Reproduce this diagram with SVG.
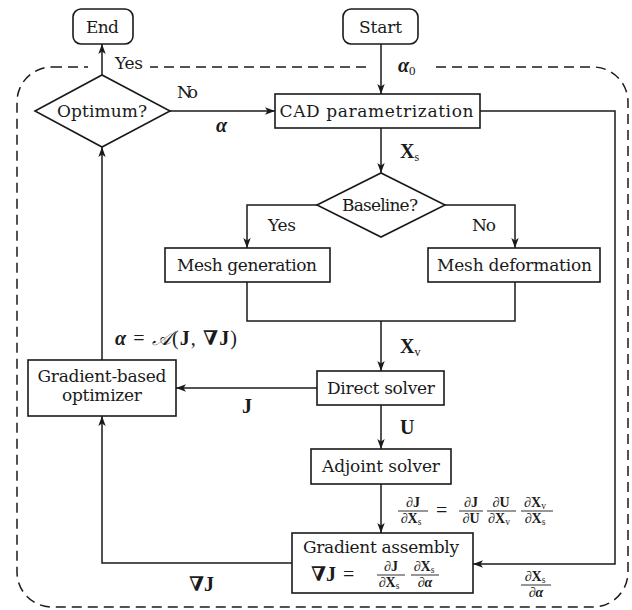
<svg xmlns="http://www.w3.org/2000/svg" width="632" height="610" viewBox="0 0 632 610">
<defs>
<style>
.box{fill:#fff;stroke:#1a1a1a;stroke-width:1.6}
.ln{fill:none;stroke:#1a1a1a;stroke-width:1.5}
.t{font-family:"DejaVu Serif","Liberation Serif",serif;font-size:17px;fill:#1a1a1a}
.m{font-family:"Liberation Serif","DejaVu Serif",serif;font-size:20px;fill:#1a1a1a}
.c{text-anchor:middle}
.b{font-weight:bold}
.bi{font-weight:bold;font-style:italic}
.f{font-family:"Liberation Serif","DejaVu Serif",serif;font-size:14px;fill:#1a1a1a;text-anchor:middle}
.fl{stroke:#1a1a1a;stroke-width:0.9}
.dash{fill:none;stroke:#1a1a1a;stroke-width:1.5;stroke-dasharray:10 6}
</style>
<marker id="ah" viewBox="0 0 10 8" refX="10" refY="4" markerWidth="10" markerHeight="8" markerUnits="userSpaceOnUse" orient="auto">
<path d="M0,0.3 L10,4 L0,7.7 L2.5,4 Z" fill="#1a1a1a"/>
</marker>
</defs>
<rect width="632" height="610" fill="#fff"/>

<g id="boundary">
<rect class="dash" x="17" y="67" width="611" height="540" rx="35" ry="35"/>
<rect x="88" y="60" width="62" height="14" fill="#fff"/>
<rect x="371" y="60" width="62" height="14" fill="#fff"/>
</g>

<g id="connectors">
<path class="ln" d="M102,75 V44" marker-end="url(#ah)"/>
<path class="ln" d="M381,44 V94" marker-end="url(#ah)"/>
<path class="ln" d="M170,111 H275" marker-end="url(#ah)"/>
<path class="ln" d="M381,128 V173" marker-end="url(#ah)"/>
<path class="ln" d="M317,205 H247 V248" marker-end="url(#ah)"/>
<path class="ln" d="M445,205 H515 V248" marker-end="url(#ah)"/>
<path class="ln" d="M247,282 V321 H515 V282"/>
<path class="ln" d="M381,321 V371" marker-end="url(#ah)"/>
<path class="ln" d="M317,388 H176" marker-end="url(#ah)"/>
<path class="ln" d="M381,405 V449" marker-end="url(#ah)"/>
<path class="ln" d="M381,484 V533" marker-end="url(#ah)"/>
<path class="ln" d="M480,111 H615 V564 H473" marker-end="url(#ah)"/>
<path class="ln" d="M292,563 H102 V416" marker-end="url(#ah)"/>
<path class="ln" d="M102,360 V147" marker-end="url(#ah)"/>
</g>

<g id="end">
<rect class="box" x="73" y="9" width="60" height="35" rx="8"/>
<text class="t c" x="102.5" y="33" textLength="33">End</text>
</g>
<g id="start">
<rect class="box" x="343" y="9" width="75" height="35" rx="8"/>
<text class="t c" x="380.5" y="33" textLength="43">Start</text>
</g>
<g id="optimum">
<polygon class="box" points="35,111 102,75 170,111 102,147"/>
<text class="t c" x="102" y="117" textLength="90">Optimum?</text>
</g>
<g id="cad">
<rect class="box" x="275" y="94" width="205" height="34"/>
<text class="t c" x="376.5" y="117" textLength="194">CAD parametrization</text>
</g>
<g id="baseline">
<polygon class="box" points="317,205 381,173 445,205 381,237"/>
<text class="t c" x="380" y="211" textLength="76">Baseline?</text>
</g>
<g id="meshgen">
<rect class="box" x="165" y="248" width="165" height="34"/>
<text class="t c" x="247" y="271" textLength="140">Mesh generation</text>
</g>
<g id="meshdef">
<rect class="box" x="428" y="248" width="172" height="34"/>
<text class="t c" x="514.5" y="271" textLength="155">Mesh deformation</text>
</g>
<g id="direct">
<rect class="box" x="317" y="371" width="127" height="34"/>
<text class="t c" x="381" y="394" textLength="108">Direct solver</text>
</g>
<g id="adjoint">
<rect class="box" x="311" y="449" width="140" height="35"/>
<text class="t c" x="381" y="472" textLength="118">Adjoint solver</text>
</g>
<g id="optimizer">
<rect class="box" x="28" y="360" width="148" height="56"/>
<text class="t c" x="102" y="382" textLength="129">Gradient-based</text>
<text class="t c" x="102" y="401" textLength="80">optimizer</text>
</g>
<g id="gradasm">
<rect class="box" x="292" y="533" width="181" height="60"/>
<text class="t c" x="381" y="553" textLength="156">Gradient assembly</text>
<text class="m b" x="311" y="581">∇J</text>
<text class="m" x="343" y="581">=</text>
<text class="f" x="391" y="571">∂<tspan class="b">J</tspan></text>
<line class="fl" x1="377" y1="575" x2="405" y2="575"/>
<text class="f" x="389" y="587">∂<tspan class="b">X</tspan><tspan font-size="9.5" dy="2">s</tspan></text>
<text class="f" x="424" y="571">∂<tspan class="b">X</tspan><tspan font-size="9.5" dy="2">s</tspan></text>
<line class="fl" x1="411" y1="575" x2="439" y2="575"/>
<text class="f" x="425" y="587">∂<tspan class="bi">α</tspan></text>
</g>

<g id="labels">
<text class="t" x="115" y="69" textLength="28">Yes</text>
<text class="t" x="177" y="98" textLength="21">No</text>
<text class="t" x="268" y="231" textLength="28">Yes</text>
<text class="t" x="472" y="231" textLength="24">No</text>
<text class="m bi" x="216" y="132">α</text>
<text class="m bi" x="398" y="72">α<tspan font-size="13" font-style="normal" font-weight="normal" dy="3">0</tspan></text>
<text class="m b" x="400" y="158">X<tspan font-size="12" font-weight="normal" dy="3">s</tspan></text>
<text class="m b" x="400" y="353">X<tspan font-size="12" font-weight="normal" dy="3">v</tspan></text>
<text class="m b" x="400" y="434">U</text>
<text class="m b" x="242" y="413">J</text>
<text class="m" x="115" y="345" font-size="21" textLength="122"><tspan class="bi">α</tspan> = <tspan font-family="DejaVu Serif,serif" font-style="italic">𝒜</tspan>(<tspan class="b">J</tspan>, <tspan class="b">∇J</tspan>)</text>
<text class="m b" x="189" y="591">∇J</text>
<!-- adjoint formula -->
<text class="f" x="413" y="507">∂<tspan class="b">J</tspan></text>
<line class="fl" x1="398" y1="511" x2="428" y2="511"/>
<text class="f" x="411" y="523">∂<tspan class="b">X</tspan><tspan font-size="9.5" dy="2">s</tspan></text>
<text class="m" x="436" y="517">=</text>
<text class="f" x="471" y="507">∂<tspan class="b">J</tspan></text>
<line class="fl" x1="459" y1="511" x2="483" y2="511"/>
<text class="f" x="471" y="523">∂<tspan class="b">U</tspan></text>
<text class="f" x="501" y="507">∂<tspan class="b">U</tspan></text>
<line class="fl" x1="487" y1="511" x2="516" y2="511"/>
<text class="f" x="499" y="523">∂<tspan class="b">X</tspan><tspan font-size="9.5" dy="2">v</tspan></text>
<text class="f" x="535" y="507">∂<tspan class="b">X</tspan><tspan font-size="9.5" dy="2">v</tspan></text>
<line class="fl" x1="521" y1="511" x2="553" y2="511"/>
<text class="f" x="535" y="523">∂<tspan class="b">X</tspan><tspan font-size="9.5" dy="2">s</tspan></text>
<text class="f" x="535" y="581">∂<tspan class="b">X</tspan><tspan font-size="9.5" dy="2">s</tspan></text>
<line class="fl" x1="521" y1="585" x2="551" y2="585"/>
<text class="f" x="536" y="597">∂<tspan class="bi">α</tspan></text>
</g>
</svg>
